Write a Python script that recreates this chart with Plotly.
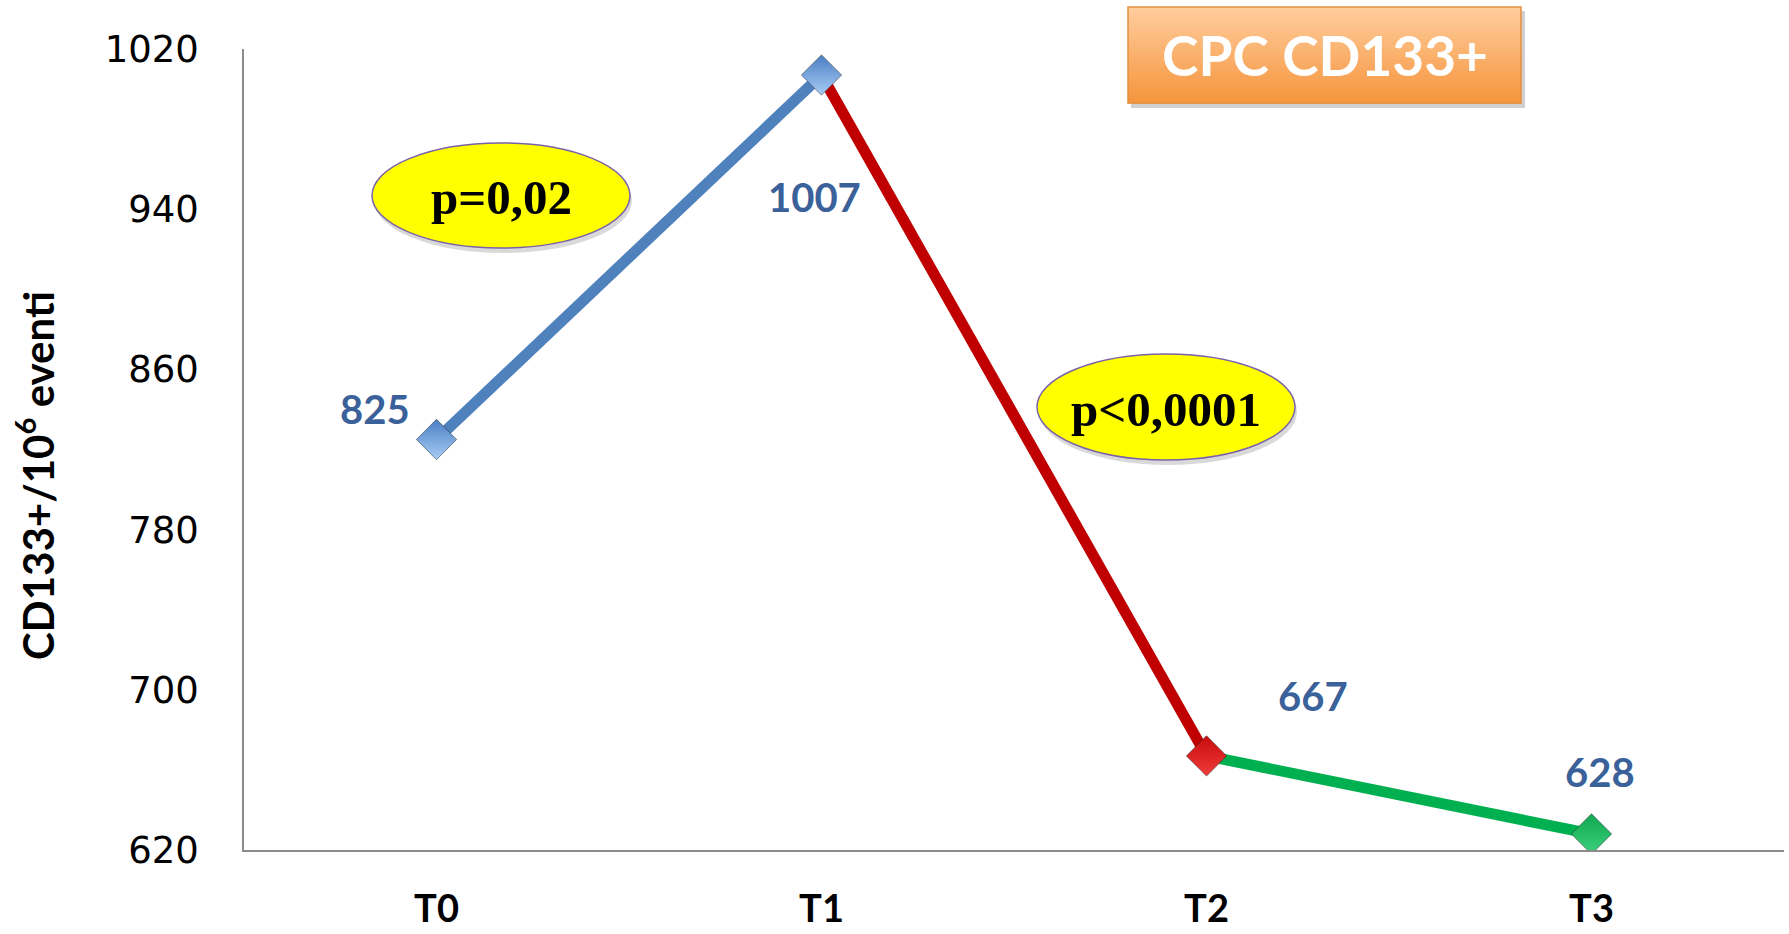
import plotly.graph_objects as go

# Time points and CD133+ counts per 10^6 events
timepoints = ["T0", "T1", "T2", "T3"]
cd133_counts = [825, 1007, 667, 628]
segment_colors = ["#4F81BD", "#C00000", "#00B050"]
marker_colors = ["#4A7EC4", "#4A7EC4", "#C80C0C", "#10A850"]
marker_highlights = ["#A8CDF5", "#A8CDF5", "#F03C3C", "#3CD07C"]
y_ticks = [620, 700, 780, 860, 940, 1020]

# p-values annotated on the two significant changes
p_labels = ["p=0,02", "p<0,0001"]

W, H = 1789, 934
L, R, T, B = 244, 5, 49, 84
PW, PH = W - L - R, H - T - B


def px(x):
    return (x - L) / PW


def py(y):
    return (H - B - y) / PH


fig = go.Figure()

# Coloured segments between consecutive time points
for i in range(len(timepoints) - 1):
    fig.add_trace(go.Scatter(
        x=timepoints[i:i + 2], y=cd133_counts[i:i + 2], mode="lines",
        line=dict(color=segment_colors[i], width=11),
        hoverinfo="skip", showlegend=False,
    ))

# Diamond markers
fig.add_trace(go.Scatter(
    x=timepoints, y=cd133_counts, mode="markers",
    marker=dict(symbol="diamond", size=31, color=marker_colors,
                line=dict(color="rgba(40,40,40,0.5)", width=1),
                gradient=dict(type="vertical", color=marker_highlights)),
    showlegend=False,
))

# Value labels near each point
label_offsets = [(-62, 30), (-7, -122), (106, 60), (8, 62)]
for tp, v, (dx, dy) in zip(timepoints, cd133_counts, label_offsets):
    fig.add_annotation(
        x=tp, y=v, text=f"<b>{v}</b>", showarrow=False,
        xshift=dx, yshift=dy,
        font=dict(family="Lato", size=40, color="#3A6199"),
    )

shapes = []

# Title box with vertical orange gradient and drop shadow
bx0, bx1, by0, by1 = 1128, 1521, 7, 103
shapes.append(dict(type="rect", xref="paper", yref="paper",
                   x0=px(bx0 + 3), x1=px(bx1 + 4), y0=py(by1 + 5), y1=py(by0 + 4),
                   fillcolor="rgba(120,120,120,0.35)", line=dict(width=0), layer="above"))
top_rgb = (255, 204, 156)
bot_rgb = (246, 150, 62)
n_strips = 24
for k in range(n_strips):
    t = k / (n_strips - 1)
    c = tuple(int(round(a + (b - a) * t)) for a, b in zip(top_rgb, bot_rgb))
    ya = by0 + (by1 - by0) * k / n_strips
    yb = by0 + (by1 - by0) * (k + 1) / n_strips
    shapes.append(dict(type="rect", xref="paper", yref="paper",
                       x0=px(bx0), x1=px(bx1), y0=py(yb + 0.5), y1=py(ya),
                       fillcolor="rgb(%d,%d,%d)" % c, line=dict(width=0), layer="above"))
shapes.append(dict(type="rect", xref="paper", yref="paper",
                   x0=px(bx0), x1=px(bx1), y0=py(by1), y1=py(by0),
                   fillcolor="rgba(0,0,0,0)", line=dict(color="#E58E3E", width=1.5),
                   layer="above"))

# Yellow ellipses for the p-values
ellipses = [(372, 630, 143, 248), (1037, 1295, 354, 460)]
for (ex0, ex1, ey0, ey1), lab in zip(ellipses, p_labels):
    shapes.append(dict(type="circle", xref="paper", yref="paper",
                       x0=px(ex0 + 2), x1=px(ex1 + 2), y0=py(ey1 + 5), y1=py(ey0 + 5),
                       fillcolor="rgba(130,130,130,0.3)", line=dict(width=0), layer="above"))
    shapes.append(dict(type="circle", xref="paper", yref="paper",
                       x0=px(ex0), x1=px(ex1), y0=py(ey1), y1=py(ey0),
                       fillcolor="#FFFF00", line=dict(color="#7A62A8", width=1.5),
                       layer="above"))

fig.update_layout(shapes=shapes)

for (ex0, ex1, ey0, ey1), lab in zip(ellipses, p_labels):
    fig.add_annotation(
        xref="paper", yref="paper", x=px((ex0 + ex1) / 2), y=py((ey0 + ey1) / 2 + 2),
        text=f"<b>{lab}</b>", showarrow=False, xanchor="center", yanchor="middle",
        font=dict(family="Liberation Serif", size=49, color="#000000"),
    )

fig.add_annotation(
    xref="paper", yref="paper", x=px((bx0 + bx1) / 2), y=py((by0 + by1) / 2),
    text="<b>CPC CD133+</b>", showarrow=False, xanchor="center", yanchor="middle",
    font=dict(family="Lato", size=55, color="#FFFFFF"),
)

# Y-axis title
fig.add_annotation(
    xref="paper", yref="paper", x=px(35), y=py(476),
    text="<b>CD133+/10<sup>6</sup> eventi</b>", textangle=-90, showarrow=False,
    xanchor="center", yanchor="middle",
    font=dict(family="Lato", size=42, color="#000000"),
)

fig.update_layout(
    width=W, height=H,
    margin=dict(l=L, r=R, t=T, b=B),
    paper_bgcolor="white", plot_bgcolor="white",
    xaxis=dict(
        type="category", categoryorder="array", categoryarray=timepoints,
        range=[-0.5, 3.5], showgrid=False, zeroline=False, automargin=False,
        showline=True, linecolor="#8C8C8C", linewidth=1.5,
        ticks="", tickfont=dict(family="Lato", size=38, color="#000000"),
        tickprefix="<b>", ticksuffix="</b>", ticklabelstandoff=25,
    ),
    yaxis=dict(
        range=[620, 1020], tickvals=y_ticks, showgrid=False, zeroline=False,
        automargin=False,
        showline=True, linecolor="#8C8C8C", linewidth=1.5,
        ticks="", tickfont=dict(family="DejaVu Sans", size=37, color="#000000"),
        ticklabelstandoff=36,
    ),
)

fig.write_html("out.html")
